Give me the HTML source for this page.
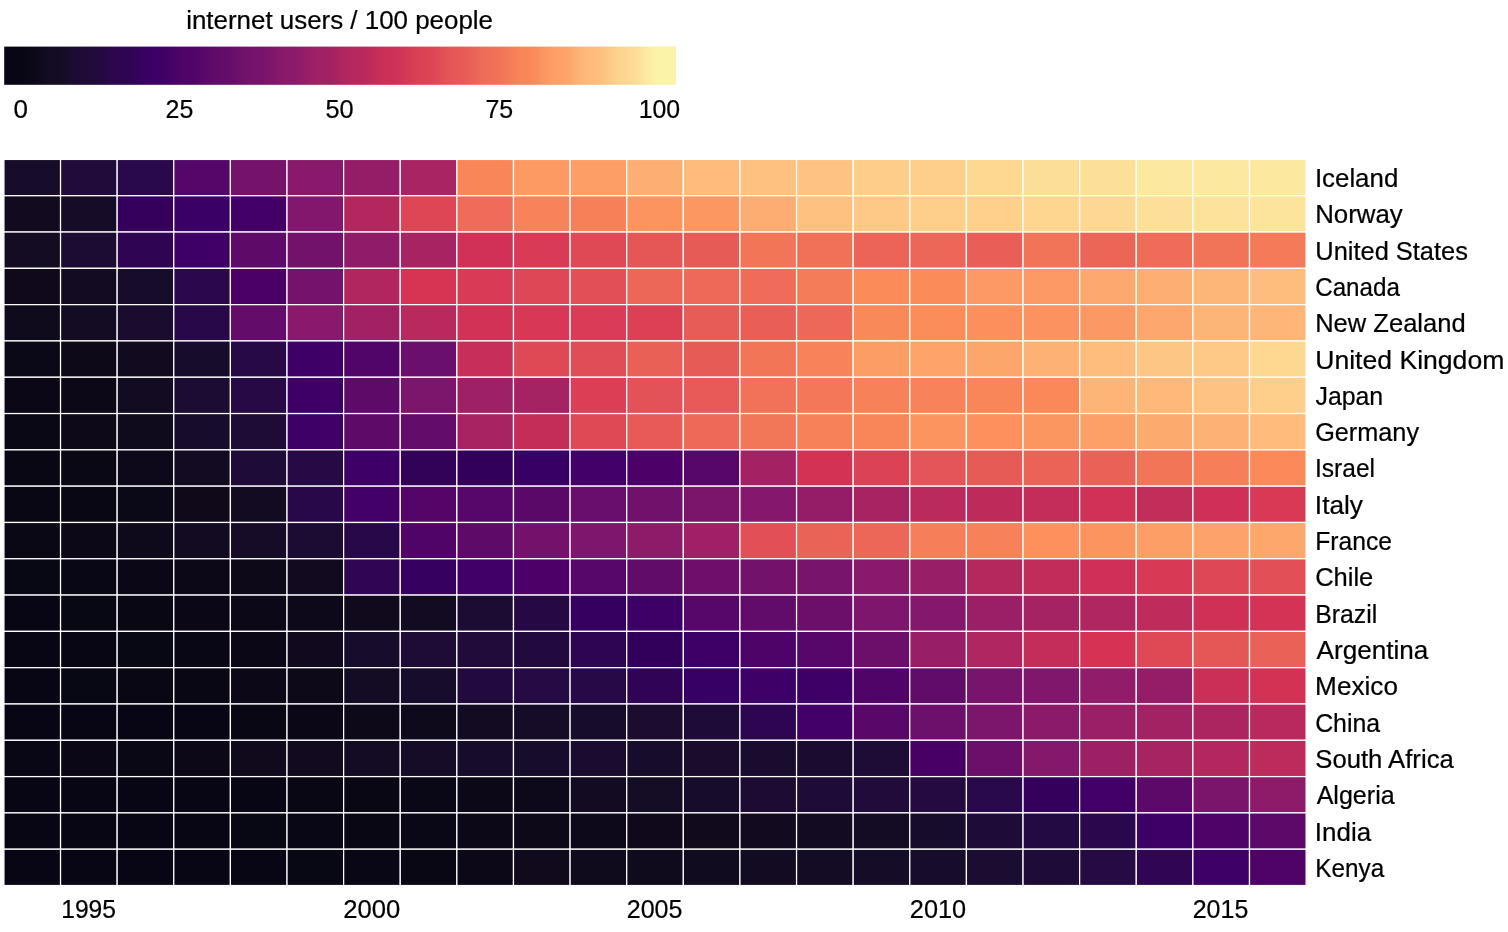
<!DOCTYPE html>
<html><head><meta charset="utf-8"><title>internet users / 100 people</title>
<style>html,body{margin:0;padding:0;background:#fff;overflow:hidden}svg{display:block}text{font-family:"Liberation Sans",sans-serif;fill:#000;stroke:#000;stroke-width:0.22px}</style></head><body>
<svg width="1508" height="932" viewBox="0 0 1508 932">
<defs><linearGradient id="cb" x1="0" x2="1" y1="0" y2="0">
<stop offset="0%" stop-color="#080614"/>
<stop offset="2.500%" stop-color="#080614"/>
<stop offset="3.125%" stop-color="#090615"/>
<stop offset="3.750%" stop-color="#0a0716"/>
<stop offset="4.375%" stop-color="#0c0819"/>
<stop offset="5.000%" stop-color="#0e091c"/>
<stop offset="5.625%" stop-color="#100a1f"/>
<stop offset="6.250%" stop-color="#120b22"/>
<stop offset="6.875%" stop-color="#130c23"/>
<stop offset="7.500%" stop-color="#140c24"/>
<stop offset="8.125%" stop-color="#140c25"/>
<stop offset="8.750%" stop-color="#160c27"/>
<stop offset="9.375%" stop-color="#170c2b"/>
<stop offset="10.000%" stop-color="#1a0c2e"/>
<stop offset="10.625%" stop-color="#1c0b32"/>
<stop offset="11.250%" stop-color="#1d0b36"/>
<stop offset="11.875%" stop-color="#1f0b38"/>
<stop offset="12.500%" stop-color="#1f0b39"/>
<stop offset="13.125%" stop-color="#200b3a"/>
<stop offset="13.750%" stop-color="#210a3d"/>
<stop offset="14.375%" stop-color="#230940"/>
<stop offset="15.000%" stop-color="#260844"/>
<stop offset="15.625%" stop-color="#290849"/>
<stop offset="16.250%" stop-color="#2b074c"/>
<stop offset="16.875%" stop-color="#2c064f"/>
<stop offset="17.500%" stop-color="#2d0650"/>
<stop offset="18.125%" stop-color="#2e0651"/>
<stop offset="18.750%" stop-color="#300553"/>
<stop offset="19.375%" stop-color="#320457"/>
<stop offset="20.000%" stop-color="#35035b"/>
<stop offset="20.625%" stop-color="#38025f"/>
<stop offset="21.250%" stop-color="#3a0163"/>
<stop offset="21.875%" stop-color="#3c0065"/>
<stop offset="22.500%" stop-color="#3d0066"/>
<stop offset="23.125%" stop-color="#3e0066"/>
<stop offset="23.750%" stop-color="#400166"/>
<stop offset="24.375%" stop-color="#430167"/>
<stop offset="25.000%" stop-color="#460267"/>
<stop offset="25.625%" stop-color="#4a0367"/>
<stop offset="26.250%" stop-color="#4d0368"/>
<stop offset="26.875%" stop-color="#4f0468"/>
<stop offset="27.500%" stop-color="#500468"/>
<stop offset="28.125%" stop-color="#510468"/>
<stop offset="28.750%" stop-color="#530568"/>
<stop offset="29.375%" stop-color="#560769"/>
<stop offset="30.000%" stop-color="#5a0869"/>
<stop offset="30.625%" stop-color="#5d0969"/>
<stop offset="31.250%" stop-color="#600b6a"/>
<stop offset="31.875%" stop-color="#620c6a"/>
<stop offset="32.500%" stop-color="#630c6a"/>
<stop offset="33.125%" stop-color="#640c6a"/>
<stop offset="33.750%" stop-color="#660d6a"/>
<stop offset="34.375%" stop-color="#690e6b"/>
<stop offset="35.000%" stop-color="#6c106b"/>
<stop offset="35.625%" stop-color="#70116b"/>
<stop offset="36.250%" stop-color="#73126c"/>
<stop offset="36.875%" stop-color="#75136c"/>
<stop offset="37.500%" stop-color="#76136c"/>
<stop offset="38.125%" stop-color="#77136c"/>
<stop offset="38.750%" stop-color="#79146c"/>
<stop offset="39.375%" stop-color="#7d156b"/>
<stop offset="40.000%" stop-color="#80166b"/>
<stop offset="40.625%" stop-color="#84186b"/>
<stop offset="41.250%" stop-color="#88196a"/>
<stop offset="41.875%" stop-color="#8a1a6a"/>
<stop offset="42.500%" stop-color="#8b1a6a"/>
<stop offset="43.125%" stop-color="#8c1a6a"/>
<stop offset="43.750%" stop-color="#8e1b69"/>
<stop offset="44.375%" stop-color="#921c68"/>
<stop offset="45.000%" stop-color="#961e67"/>
<stop offset="45.625%" stop-color="#9a1f66"/>
<stop offset="46.250%" stop-color="#9e2065"/>
<stop offset="46.875%" stop-color="#a02164"/>
<stop offset="47.500%" stop-color="#a12164"/>
<stop offset="48.125%" stop-color="#a22164"/>
<stop offset="48.750%" stop-color="#a42263"/>
<stop offset="49.375%" stop-color="#a82362"/>
<stop offset="50.000%" stop-color="#ac2461"/>
<stop offset="50.625%" stop-color="#b02660"/>
<stop offset="51.250%" stop-color="#b4275f"/>
<stop offset="51.875%" stop-color="#b6285e"/>
<stop offset="52.500%" stop-color="#b7285e"/>
<stop offset="53.125%" stop-color="#b8285e"/>
<stop offset="53.750%" stop-color="#ba295d"/>
<stop offset="54.375%" stop-color="#be2b5c"/>
<stop offset="55.000%" stop-color="#c22c5a"/>
<stop offset="55.625%" stop-color="#c62d59"/>
<stop offset="56.250%" stop-color="#ca2f58"/>
<stop offset="56.875%" stop-color="#cc3057"/>
<stop offset="57.500%" stop-color="#cd3057"/>
<stop offset="58.125%" stop-color="#ce3157"/>
<stop offset="58.750%" stop-color="#cf3357"/>
<stop offset="59.375%" stop-color="#d23656"/>
<stop offset="60.000%" stop-color="#d43956"/>
<stop offset="60.625%" stop-color="#d73c56"/>
<stop offset="61.250%" stop-color="#da3f55"/>
<stop offset="61.875%" stop-color="#db4155"/>
<stop offset="62.500%" stop-color="#dc4255"/>
<stop offset="63.125%" stop-color="#dc4355"/>
<stop offset="63.750%" stop-color="#de4655"/>
<stop offset="64.375%" stop-color="#df4956"/>
<stop offset="65.000%" stop-color="#e14e56"/>
<stop offset="65.625%" stop-color="#e35256"/>
<stop offset="66.250%" stop-color="#e45557"/>
<stop offset="66.875%" stop-color="#e65857"/>
<stop offset="67.500%" stop-color="#e65957"/>
<stop offset="68.125%" stop-color="#e65a57"/>
<stop offset="68.750%" stop-color="#e85c57"/>
<stop offset="69.375%" stop-color="#e96057"/>
<stop offset="70.000%" stop-color="#eb6458"/>
<stop offset="70.625%" stop-color="#ed6858"/>
<stop offset="71.250%" stop-color="#ee6c58"/>
<stop offset="71.875%" stop-color="#f06e58"/>
<stop offset="72.500%" stop-color="#f06f58"/>
<stop offset="73.125%" stop-color="#f07058"/>
<stop offset="73.750%" stop-color="#f17358"/>
<stop offset="74.375%" stop-color="#f37658"/>
<stop offset="75.000%" stop-color="#f47a58"/>
<stop offset="75.625%" stop-color="#f67f59"/>
<stop offset="76.250%" stop-color="#f88259"/>
<stop offset="76.875%" stop-color="#f98559"/>
<stop offset="77.500%" stop-color="#f98659"/>
<stop offset="78.125%" stop-color="#f9875a"/>
<stop offset="78.750%" stop-color="#fa8a5b"/>
<stop offset="79.375%" stop-color="#fa8e5e"/>
<stop offset="80.000%" stop-color="#fb9360"/>
<stop offset="80.625%" stop-color="#fc9863"/>
<stop offset="81.250%" stop-color="#fc9c66"/>
<stop offset="81.875%" stop-color="#fd9f67"/>
<stop offset="82.500%" stop-color="#fda068"/>
<stop offset="83.125%" stop-color="#fda169"/>
<stop offset="83.750%" stop-color="#fda46b"/>
<stop offset="84.375%" stop-color="#fda96e"/>
<stop offset="85.000%" stop-color="#feae72"/>
<stop offset="85.625%" stop-color="#feb276"/>
<stop offset="86.250%" stop-color="#feb779"/>
<stop offset="86.875%" stop-color="#feba7b"/>
<stop offset="87.500%" stop-color="#febb7c"/>
<stop offset="88.125%" stop-color="#febc7d"/>
<stop offset="88.750%" stop-color="#febf7f"/>
<stop offset="89.375%" stop-color="#fec483"/>
<stop offset="90.000%" stop-color="#fec886"/>
<stop offset="90.625%" stop-color="#fecd8a"/>
<stop offset="91.250%" stop-color="#fed28e"/>
<stop offset="91.875%" stop-color="#fed590"/>
<stop offset="92.500%" stop-color="#fed691"/>
<stop offset="93.125%" stop-color="#fed792"/>
<stop offset="93.750%" stop-color="#fedb94"/>
<stop offset="94.375%" stop-color="#fddf98"/>
<stop offset="95.000%" stop-color="#fce49c"/>
<stop offset="95.625%" stop-color="#fceaa0"/>
<stop offset="96.250%" stop-color="#fbeea4"/>
<stop offset="96.875%" stop-color="#fbf2a6"/>
<stop offset="97.500%" stop-color="#fbf3a7"/>
<stop offset="100%" stop-color="#fbf3a7"/>
</linearGradient></defs>
<rect x="0" y="0" width="1508" height="932" fill="#fff"/>
<rect x="4.2" y="46.6" width="671.8" height="38.2" fill="url(#cb)"/>
<g stroke="#fff" stroke-width="1.25">
<rect x="3.93" y="159.43" width="56.62" height="36.30" fill="#170c2a"/>
<rect x="60.55" y="159.43" width="56.62" height="36.30" fill="#210b3b"/>
<rect x="117.16" y="159.43" width="56.62" height="36.30" fill="#2a084c"/>
<rect x="173.78" y="159.43" width="56.62" height="36.30" fill="#540669"/>
<rect x="230.40" y="159.43" width="56.62" height="36.30" fill="#74126c"/>
<rect x="287.01" y="159.43" width="56.62" height="36.30" fill="#88196b"/>
<rect x="343.63" y="159.43" width="56.62" height="36.30" fill="#951d67"/>
<rect x="400.25" y="159.43" width="56.62" height="36.30" fill="#a92462"/>
<rect x="456.87" y="159.43" width="56.62" height="36.30" fill="#f98659"/>
<rect x="513.48" y="159.43" width="56.62" height="36.30" fill="#fd9a64"/>
<rect x="570.10" y="159.43" width="56.62" height="36.30" fill="#fd9e67"/>
<rect x="626.72" y="159.43" width="56.62" height="36.30" fill="#fdae72"/>
<rect x="683.33" y="159.43" width="56.62" height="36.30" fill="#febb7c"/>
<rect x="739.95" y="159.43" width="56.62" height="36.30" fill="#fec180"/>
<rect x="796.57" y="159.43" width="56.62" height="36.30" fill="#fec382"/>
<rect x="853.18" y="159.43" width="56.62" height="36.30" fill="#fecd8a"/>
<rect x="909.80" y="159.43" width="56.62" height="36.30" fill="#fecf8b"/>
<rect x="966.42" y="159.43" width="56.62" height="36.30" fill="#fed791"/>
<rect x="1023.04" y="159.43" width="56.62" height="36.30" fill="#fdde97"/>
<rect x="1079.65" y="159.43" width="56.62" height="36.30" fill="#fde098"/>
<rect x="1136.27" y="159.43" width="56.62" height="36.30" fill="#fce99f"/>
<rect x="1192.89" y="159.43" width="56.62" height="36.30" fill="#fce99f"/>
<rect x="1249.50" y="159.43" width="56.62" height="36.30" fill="#fce99f"/>
<rect x="3.93" y="195.73" width="56.62" height="36.30" fill="#120b20"/>
<rect x="60.55" y="195.73" width="56.62" height="36.30" fill="#160c28"/>
<rect x="117.16" y="195.73" width="56.62" height="36.30" fill="#34005c"/>
<rect x="173.78" y="195.73" width="56.62" height="36.30" fill="#3a0066"/>
<rect x="230.40" y="195.73" width="56.62" height="36.30" fill="#420067"/>
<rect x="287.01" y="195.73" width="56.62" height="36.30" fill="#82176d"/>
<rect x="343.63" y="195.73" width="56.62" height="36.30" fill="#b4275e"/>
<rect x="400.25" y="195.73" width="56.62" height="36.30" fill="#de4655"/>
<rect x="456.87" y="195.73" width="56.62" height="36.30" fill="#ee6c58"/>
<rect x="513.48" y="195.73" width="56.62" height="36.30" fill="#f88259"/>
<rect x="570.10" y="195.73" width="56.62" height="36.30" fill="#f78059"/>
<rect x="626.72" y="195.73" width="56.62" height="36.30" fill="#fc9460"/>
<rect x="683.33" y="195.73" width="56.62" height="36.30" fill="#fc9762"/>
<rect x="739.95" y="195.73" width="56.62" height="36.30" fill="#fdad72"/>
<rect x="796.57" y="195.73" width="56.62" height="36.30" fill="#fec180"/>
<rect x="853.18" y="195.73" width="56.62" height="36.30" fill="#fec986"/>
<rect x="909.80" y="195.73" width="56.62" height="36.30" fill="#fecf8b"/>
<rect x="966.42" y="195.73" width="56.62" height="36.30" fill="#fed08c"/>
<rect x="1023.04" y="195.73" width="56.62" height="36.30" fill="#fed690"/>
<rect x="1079.65" y="195.73" width="56.62" height="36.30" fill="#fed892"/>
<rect x="1136.27" y="195.73" width="56.62" height="36.30" fill="#fddf97"/>
<rect x="1192.89" y="195.73" width="56.62" height="36.30" fill="#fde299"/>
<rect x="1249.50" y="195.73" width="56.62" height="36.30" fill="#fde49b"/>
<rect x="3.93" y="232.04" width="56.62" height="36.30" fill="#130c23"/>
<rect x="60.55" y="232.04" width="56.62" height="36.30" fill="#1c0b33"/>
<rect x="117.16" y="232.04" width="56.62" height="36.30" fill="#2f0553"/>
<rect x="173.78" y="232.04" width="56.62" height="36.30" fill="#3f0066"/>
<rect x="230.40" y="232.04" width="56.62" height="36.30" fill="#5e0a69"/>
<rect x="287.01" y="232.04" width="56.62" height="36.30" fill="#72126b"/>
<rect x="343.63" y="232.04" width="56.62" height="36.30" fill="#8f1b69"/>
<rect x="400.25" y="232.04" width="56.62" height="36.30" fill="#a82362"/>
<rect x="456.87" y="232.04" width="56.62" height="36.30" fill="#d13156"/>
<rect x="513.48" y="232.04" width="56.62" height="36.30" fill="#d93b55"/>
<rect x="570.10" y="232.04" width="56.62" height="36.30" fill="#df4956"/>
<rect x="626.72" y="232.04" width="56.62" height="36.30" fill="#e55757"/>
<rect x="683.33" y="232.04" width="56.62" height="36.30" fill="#e75b57"/>
<rect x="739.95" y="232.04" width="56.62" height="36.30" fill="#f27558"/>
<rect x="796.57" y="232.04" width="56.62" height="36.30" fill="#f07158"/>
<rect x="853.18" y="232.04" width="56.62" height="36.30" fill="#eb6457"/>
<rect x="909.80" y="232.04" width="56.62" height="36.30" fill="#ec6758"/>
<rect x="966.42" y="232.04" width="56.62" height="36.30" fill="#e95e57"/>
<rect x="1023.04" y="232.04" width="56.62" height="36.30" fill="#f27458"/>
<rect x="1079.65" y="232.04" width="56.62" height="36.30" fill="#ec6658"/>
<rect x="1136.27" y="232.04" width="56.62" height="36.30" fill="#ef6d58"/>
<rect x="1192.89" y="232.04" width="56.62" height="36.30" fill="#f17358"/>
<rect x="1249.50" y="232.04" width="56.62" height="36.30" fill="#f47a59"/>
<rect x="3.93" y="268.34" width="56.62" height="36.30" fill="#0f091b"/>
<rect x="60.55" y="268.34" width="56.62" height="36.30" fill="#120b21"/>
<rect x="117.16" y="268.34" width="56.62" height="36.30" fill="#170c2a"/>
<rect x="173.78" y="268.34" width="56.62" height="36.30" fill="#2b074d"/>
<rect x="230.40" y="268.34" width="56.62" height="36.30" fill="#4b0068"/>
<rect x="287.01" y="268.34" width="56.62" height="36.30" fill="#74126c"/>
<rect x="343.63" y="268.34" width="56.62" height="36.30" fill="#b1265f"/>
<rect x="400.25" y="268.34" width="56.62" height="36.30" fill="#d73454"/>
<rect x="456.87" y="268.34" width="56.62" height="36.30" fill="#d93b55"/>
<rect x="513.48" y="268.34" width="56.62" height="36.30" fill="#de4756"/>
<rect x="570.10" y="268.34" width="56.62" height="36.30" fill="#e24f56"/>
<rect x="626.72" y="268.34" width="56.62" height="36.30" fill="#ec6758"/>
<rect x="683.33" y="268.34" width="56.62" height="36.30" fill="#ed6a58"/>
<rect x="739.95" y="268.34" width="56.62" height="36.30" fill="#ef6d58"/>
<rect x="796.57" y="268.34" width="56.62" height="36.30" fill="#f57c59"/>
<rect x="853.18" y="268.34" width="56.62" height="36.30" fill="#fb8c5a"/>
<rect x="909.80" y="268.34" width="56.62" height="36.30" fill="#fb8c5a"/>
<rect x="966.42" y="268.34" width="56.62" height="36.30" fill="#fd9964"/>
<rect x="1023.04" y="268.34" width="56.62" height="36.30" fill="#fd9964"/>
<rect x="1079.65" y="268.34" width="56.62" height="36.30" fill="#fda86e"/>
<rect x="1136.27" y="268.34" width="56.62" height="36.30" fill="#fdaf73"/>
<rect x="1192.89" y="268.34" width="56.62" height="36.30" fill="#fdb678"/>
<rect x="1249.50" y="268.34" width="56.62" height="36.30" fill="#febd7d"/>
<rect x="3.93" y="304.65" width="56.62" height="36.30" fill="#100a1d"/>
<rect x="60.55" y="304.65" width="56.62" height="36.30" fill="#130c23"/>
<rect x="117.16" y="304.65" width="56.62" height="36.30" fill="#1a0c2f"/>
<rect x="173.78" y="304.65" width="56.62" height="36.30" fill="#29084a"/>
<rect x="230.40" y="304.65" width="56.62" height="36.30" fill="#630c6a"/>
<rect x="287.01" y="304.65" width="56.62" height="36.30" fill="#88196b"/>
<rect x="343.63" y="304.65" width="56.62" height="36.30" fill="#a12164"/>
<rect x="400.25" y="304.65" width="56.62" height="36.30" fill="#b9295d"/>
<rect x="456.87" y="304.65" width="56.62" height="36.30" fill="#d23255"/>
<rect x="513.48" y="304.65" width="56.62" height="36.30" fill="#d83855"/>
<rect x="570.10" y="304.65" width="56.62" height="36.30" fill="#da3c55"/>
<rect x="626.72" y="304.65" width="56.62" height="36.30" fill="#db4055"/>
<rect x="683.33" y="304.65" width="56.62" height="36.30" fill="#e75c57"/>
<rect x="739.95" y="304.65" width="56.62" height="36.30" fill="#e95f57"/>
<rect x="796.57" y="304.65" width="56.62" height="36.30" fill="#ed6858"/>
<rect x="853.18" y="304.65" width="56.62" height="36.30" fill="#fa8959"/>
<rect x="909.80" y="304.65" width="56.62" height="36.30" fill="#fb8d5b"/>
<rect x="966.42" y="304.65" width="56.62" height="36.30" fill="#fc905d"/>
<rect x="1023.04" y="304.65" width="56.62" height="36.30" fill="#fc925f"/>
<rect x="1079.65" y="304.65" width="56.62" height="36.30" fill="#fc9863"/>
<rect x="1136.27" y="304.65" width="56.62" height="36.30" fill="#fda66d"/>
<rect x="1192.89" y="304.65" width="56.62" height="36.30" fill="#fdb477"/>
<rect x="1249.50" y="304.65" width="56.62" height="36.30" fill="#fdb678"/>
<rect x="3.93" y="340.95" width="56.62" height="36.30" fill="#0b0817"/>
<rect x="60.55" y="340.95" width="56.62" height="36.30" fill="#0e0919"/>
<rect x="117.16" y="340.95" width="56.62" height="36.30" fill="#120b20"/>
<rect x="173.78" y="340.95" width="56.62" height="36.30" fill="#180c2c"/>
<rect x="230.40" y="340.95" width="56.62" height="36.30" fill="#270947"/>
<rect x="287.01" y="340.95" width="56.62" height="36.30" fill="#3e0066"/>
<rect x="343.63" y="340.95" width="56.62" height="36.30" fill="#520568"/>
<rect x="400.25" y="340.95" width="56.62" height="36.30" fill="#6a0f6b"/>
<rect x="456.87" y="340.95" width="56.62" height="36.30" fill="#c72e59"/>
<rect x="513.48" y="340.95" width="56.62" height="36.30" fill="#df4956"/>
<rect x="570.10" y="340.95" width="56.62" height="36.30" fill="#e14d56"/>
<rect x="626.72" y="340.95" width="56.62" height="36.30" fill="#e96057"/>
<rect x="683.33" y="340.95" width="56.62" height="36.30" fill="#e75b57"/>
<rect x="739.95" y="340.95" width="56.62" height="36.30" fill="#f27558"/>
<rect x="796.57" y="340.95" width="56.62" height="36.30" fill="#f88359"/>
<rect x="853.18" y="340.95" width="56.62" height="36.30" fill="#fd9d66"/>
<rect x="909.80" y="340.95" width="56.62" height="36.30" fill="#fda46b"/>
<rect x="966.42" y="340.95" width="56.62" height="36.30" fill="#fda66c"/>
<rect x="1023.04" y="340.95" width="56.62" height="36.30" fill="#fdb174"/>
<rect x="1079.65" y="340.95" width="56.62" height="36.30" fill="#febd7d"/>
<rect x="1136.27" y="340.95" width="56.62" height="36.30" fill="#fec684"/>
<rect x="1192.89" y="340.95" width="56.62" height="36.30" fill="#fec886"/>
<rect x="1249.50" y="340.95" width="56.62" height="36.30" fill="#fed791"/>
<rect x="3.93" y="377.26" width="56.62" height="36.30" fill="#0b0716"/>
<rect x="60.55" y="377.26" width="56.62" height="36.30" fill="#0d0818"/>
<rect x="117.16" y="377.26" width="56.62" height="36.30" fill="#120b21"/>
<rect x="173.78" y="377.26" width="56.62" height="36.30" fill="#1c0b33"/>
<rect x="230.40" y="377.26" width="56.62" height="36.30" fill="#270945"/>
<rect x="287.01" y="377.26" width="56.62" height="36.30" fill="#3e0066"/>
<rect x="343.63" y="377.26" width="56.62" height="36.30" fill="#5d0a69"/>
<rect x="400.25" y="377.26" width="56.62" height="36.30" fill="#7c156c"/>
<rect x="456.87" y="377.26" width="56.62" height="36.30" fill="#9e2065"/>
<rect x="513.48" y="377.26" width="56.62" height="36.30" fill="#a52263"/>
<rect x="570.10" y="377.26" width="56.62" height="36.30" fill="#db3f55"/>
<rect x="626.72" y="377.26" width="56.62" height="36.30" fill="#e35256"/>
<rect x="683.33" y="377.26" width="56.62" height="36.30" fill="#e75a57"/>
<rect x="739.95" y="377.26" width="56.62" height="36.30" fill="#f17258"/>
<rect x="796.57" y="377.26" width="56.62" height="36.30" fill="#f37758"/>
<rect x="853.18" y="377.26" width="56.62" height="36.30" fill="#f78259"/>
<rect x="909.80" y="377.26" width="56.62" height="36.30" fill="#f88359"/>
<rect x="966.42" y="377.26" width="56.62" height="36.30" fill="#f98659"/>
<rect x="1023.04" y="377.26" width="56.62" height="36.30" fill="#fa8859"/>
<rect x="1079.65" y="377.26" width="56.62" height="36.30" fill="#fdb477"/>
<rect x="1136.27" y="377.26" width="56.62" height="36.30" fill="#feb97a"/>
<rect x="1192.89" y="377.26" width="56.62" height="36.30" fill="#fec382"/>
<rect x="1249.50" y="377.26" width="56.62" height="36.30" fill="#fece8b"/>
<rect x="3.93" y="413.56" width="56.62" height="36.30" fill="#0b0816"/>
<rect x="60.55" y="413.56" width="56.62" height="36.30" fill="#0e0919"/>
<rect x="117.16" y="413.56" width="56.62" height="36.30" fill="#100a1d"/>
<rect x="173.78" y="413.56" width="56.62" height="36.30" fill="#170c29"/>
<rect x="230.40" y="413.56" width="56.62" height="36.30" fill="#1e0b36"/>
<rect x="287.01" y="413.56" width="56.62" height="36.30" fill="#3c0066"/>
<rect x="343.63" y="413.56" width="56.62" height="36.30" fill="#5e0a69"/>
<rect x="400.25" y="413.56" width="56.62" height="36.30" fill="#630c6a"/>
<rect x="456.87" y="413.56" width="56.62" height="36.30" fill="#a72362"/>
<rect x="513.48" y="413.56" width="56.62" height="36.30" fill="#c52d59"/>
<rect x="570.10" y="413.56" width="56.62" height="36.30" fill="#df4956"/>
<rect x="626.72" y="413.56" width="56.62" height="36.30" fill="#e75a57"/>
<rect x="683.33" y="413.56" width="56.62" height="36.30" fill="#ed6958"/>
<rect x="739.95" y="413.56" width="56.62" height="36.30" fill="#f27658"/>
<rect x="796.57" y="413.56" width="56.62" height="36.30" fill="#f78259"/>
<rect x="853.18" y="413.56" width="56.62" height="36.30" fill="#f98659"/>
<rect x="909.80" y="413.56" width="56.62" height="36.30" fill="#fc9460"/>
<rect x="966.42" y="413.56" width="56.62" height="36.30" fill="#fc915e"/>
<rect x="1023.04" y="413.56" width="56.62" height="36.30" fill="#fc9661"/>
<rect x="1079.65" y="413.56" width="56.62" height="36.30" fill="#fda068"/>
<rect x="1136.27" y="413.56" width="56.62" height="36.30" fill="#fdaa6f"/>
<rect x="1192.89" y="413.56" width="56.62" height="36.30" fill="#fdb175"/>
<rect x="1249.50" y="413.56" width="56.62" height="36.30" fill="#febb7c"/>
<rect x="3.93" y="449.87" width="56.62" height="36.30" fill="#0a0715"/>
<rect x="60.55" y="449.87" width="56.62" height="36.30" fill="#0b0816"/>
<rect x="117.16" y="449.87" width="56.62" height="36.30" fill="#0e091a"/>
<rect x="173.78" y="449.87" width="56.62" height="36.30" fill="#120b21"/>
<rect x="230.40" y="449.87" width="56.62" height="36.30" fill="#1f0b38"/>
<rect x="287.01" y="449.87" width="56.62" height="36.30" fill="#270945"/>
<rect x="343.63" y="449.87" width="56.62" height="36.30" fill="#3c0066"/>
<rect x="400.25" y="449.87" width="56.62" height="36.30" fill="#310258"/>
<rect x="456.87" y="449.87" width="56.62" height="36.30" fill="#32005a"/>
<rect x="513.48" y="449.87" width="56.62" height="36.30" fill="#380064"/>
<rect x="570.10" y="449.87" width="56.62" height="36.30" fill="#430067"/>
<rect x="626.72" y="449.87" width="56.62" height="36.30" fill="#4c0068"/>
<rect x="683.33" y="449.87" width="56.62" height="36.30" fill="#560769"/>
<rect x="739.95" y="449.87" width="56.62" height="36.30" fill="#a42263"/>
<rect x="796.57" y="449.87" width="56.62" height="36.30" fill="#d43255"/>
<rect x="853.18" y="449.87" width="56.62" height="36.30" fill="#dc4255"/>
<rect x="909.80" y="449.87" width="56.62" height="36.30" fill="#e45557"/>
<rect x="966.42" y="449.87" width="56.62" height="36.30" fill="#e75b57"/>
<rect x="1023.04" y="449.87" width="56.62" height="36.30" fill="#eb6357"/>
<rect x="1079.65" y="449.87" width="56.62" height="36.30" fill="#ea6157"/>
<rect x="1136.27" y="449.87" width="56.62" height="36.30" fill="#f27558"/>
<rect x="1192.89" y="449.87" width="56.62" height="36.30" fill="#f67f59"/>
<rect x="1249.50" y="449.87" width="56.62" height="36.30" fill="#fb8959"/>
<rect x="3.93" y="486.17" width="56.62" height="36.30" fill="#090714"/>
<rect x="60.55" y="486.17" width="56.62" height="36.30" fill="#0a0715"/>
<rect x="117.16" y="486.17" width="56.62" height="36.30" fill="#0b0817"/>
<rect x="173.78" y="486.17" width="56.62" height="36.30" fill="#0f091a"/>
<rect x="230.40" y="486.17" width="56.62" height="36.30" fill="#130b22"/>
<rect x="287.01" y="486.17" width="56.62" height="36.30" fill="#29084a"/>
<rect x="343.63" y="486.17" width="56.62" height="36.30" fill="#440067"/>
<rect x="400.25" y="486.17" width="56.62" height="36.30" fill="#530668"/>
<rect x="456.87" y="486.17" width="56.62" height="36.30" fill="#560769"/>
<rect x="513.48" y="486.17" width="56.62" height="36.30" fill="#5a0969"/>
<rect x="570.10" y="486.17" width="56.62" height="36.30" fill="#690e6b"/>
<rect x="626.72" y="486.17" width="56.62" height="36.30" fill="#70116b"/>
<rect x="683.33" y="486.17" width="56.62" height="36.30" fill="#7b156c"/>
<rect x="739.95" y="486.17" width="56.62" height="36.30" fill="#85186c"/>
<rect x="796.57" y="486.17" width="56.62" height="36.30" fill="#951d67"/>
<rect x="853.18" y="486.17" width="56.62" height="36.30" fill="#a72362"/>
<rect x="909.80" y="486.17" width="56.62" height="36.30" fill="#bb2a5c"/>
<rect x="966.42" y="486.17" width="56.62" height="36.30" fill="#be2b5b"/>
<rect x="1023.04" y="486.17" width="56.62" height="36.30" fill="#c42d5a"/>
<rect x="1079.65" y="486.17" width="56.62" height="36.30" fill="#d03156"/>
<rect x="1136.27" y="486.17" width="56.62" height="36.30" fill="#c32d5a"/>
<rect x="1192.89" y="486.17" width="56.62" height="36.30" fill="#ce3057"/>
<rect x="1249.50" y="486.17" width="56.62" height="36.30" fill="#d93955"/>
<rect x="3.93" y="522.47" width="56.62" height="36.30" fill="#0b0816"/>
<rect x="60.55" y="522.47" width="56.62" height="36.30" fill="#0d0818"/>
<rect x="117.16" y="522.47" width="56.62" height="36.30" fill="#0f0a1b"/>
<rect x="173.78" y="522.47" width="56.62" height="36.30" fill="#120b21"/>
<rect x="230.40" y="522.47" width="56.62" height="36.30" fill="#160c28"/>
<rect x="287.01" y="522.47" width="56.62" height="36.30" fill="#1c0c33"/>
<rect x="343.63" y="522.47" width="56.62" height="36.30" fill="#290849"/>
<rect x="400.25" y="522.47" width="56.62" height="36.30" fill="#500468"/>
<rect x="456.87" y="522.47" width="56.62" height="36.30" fill="#5e0a69"/>
<rect x="513.48" y="522.47" width="56.62" height="36.30" fill="#74126b"/>
<rect x="570.10" y="522.47" width="56.62" height="36.30" fill="#7f166d"/>
<rect x="626.72" y="522.47" width="56.62" height="36.30" fill="#8e1b69"/>
<rect x="683.33" y="522.47" width="56.62" height="36.30" fill="#9f2065"/>
<rect x="739.95" y="522.47" width="56.62" height="36.30" fill="#e24f56"/>
<rect x="796.57" y="522.47" width="56.62" height="36.30" fill="#ea6357"/>
<rect x="853.18" y="522.47" width="56.62" height="36.30" fill="#ec6758"/>
<rect x="909.80" y="522.47" width="56.62" height="36.30" fill="#f67f59"/>
<rect x="966.42" y="522.47" width="56.62" height="36.30" fill="#f78159"/>
<rect x="1023.04" y="522.47" width="56.62" height="36.30" fill="#fc915e"/>
<rect x="1079.65" y="522.47" width="56.62" height="36.30" fill="#fc9460"/>
<rect x="1136.27" y="522.47" width="56.62" height="36.30" fill="#fd9e67"/>
<rect x="1192.89" y="522.47" width="56.62" height="36.30" fill="#fda26a"/>
<rect x="1249.50" y="522.47" width="56.62" height="36.30" fill="#fda76d"/>
<rect x="3.93" y="558.78" width="56.62" height="36.30" fill="#080714"/>
<rect x="60.55" y="558.78" width="56.62" height="36.30" fill="#090715"/>
<rect x="117.16" y="558.78" width="56.62" height="36.30" fill="#0b0716"/>
<rect x="173.78" y="558.78" width="56.62" height="36.30" fill="#0c0817"/>
<rect x="230.40" y="558.78" width="56.62" height="36.30" fill="#0d0919"/>
<rect x="287.01" y="558.78" width="56.62" height="36.30" fill="#120b20"/>
<rect x="343.63" y="558.78" width="56.62" height="36.30" fill="#2f0554"/>
<rect x="400.25" y="558.78" width="56.62" height="36.30" fill="#360061"/>
<rect x="456.87" y="558.78" width="56.62" height="36.30" fill="#410067"/>
<rect x="513.48" y="558.78" width="56.62" height="36.30" fill="#4d0168"/>
<rect x="570.10" y="558.78" width="56.62" height="36.30" fill="#570769"/>
<rect x="626.72" y="558.78" width="56.62" height="36.30" fill="#620c6a"/>
<rect x="683.33" y="558.78" width="56.62" height="36.30" fill="#6e106b"/>
<rect x="739.95" y="558.78" width="56.62" height="36.30" fill="#73126b"/>
<rect x="796.57" y="558.78" width="56.62" height="36.30" fill="#78146c"/>
<rect x="853.18" y="558.78" width="56.62" height="36.30" fill="#89196b"/>
<rect x="909.80" y="558.78" width="56.62" height="36.30" fill="#971e67"/>
<rect x="966.42" y="558.78" width="56.62" height="36.30" fill="#b5285e"/>
<rect x="1023.04" y="558.78" width="56.62" height="36.30" fill="#c12c5b"/>
<rect x="1079.65" y="558.78" width="56.62" height="36.30" fill="#ce3057"/>
<rect x="1136.27" y="558.78" width="56.62" height="36.30" fill="#d83955"/>
<rect x="1192.89" y="558.78" width="56.62" height="36.30" fill="#de4756"/>
<rect x="1249.50" y="558.78" width="56.62" height="36.30" fill="#e24f56"/>
<rect x="3.93" y="595.08" width="56.62" height="36.30" fill="#080614"/>
<rect x="60.55" y="595.08" width="56.62" height="36.30" fill="#080714"/>
<rect x="117.16" y="595.08" width="56.62" height="36.30" fill="#0a0715"/>
<rect x="173.78" y="595.08" width="56.62" height="36.30" fill="#0b0716"/>
<rect x="230.40" y="595.08" width="56.62" height="36.30" fill="#0d0818"/>
<rect x="287.01" y="595.08" width="56.62" height="36.30" fill="#0e091a"/>
<rect x="343.63" y="595.08" width="56.62" height="36.30" fill="#100a1c"/>
<rect x="400.25" y="595.08" width="56.62" height="36.30" fill="#120b22"/>
<rect x="456.87" y="595.08" width="56.62" height="36.30" fill="#1c0c33"/>
<rect x="513.48" y="595.08" width="56.62" height="36.30" fill="#260944"/>
<rect x="570.10" y="595.08" width="56.62" height="36.30" fill="#360061"/>
<rect x="626.72" y="595.08" width="56.62" height="36.30" fill="#3d0066"/>
<rect x="683.33" y="595.08" width="56.62" height="36.30" fill="#570769"/>
<rect x="739.95" y="595.08" width="56.62" height="36.30" fill="#610b6a"/>
<rect x="796.57" y="595.08" width="56.62" height="36.30" fill="#6b0f6b"/>
<rect x="853.18" y="595.08" width="56.62" height="36.30" fill="#7f166d"/>
<rect x="909.80" y="595.08" width="56.62" height="36.30" fill="#85186c"/>
<rect x="966.42" y="595.08" width="56.62" height="36.30" fill="#9a1f66"/>
<rect x="1023.04" y="595.08" width="56.62" height="36.30" fill="#a62363"/>
<rect x="1079.65" y="595.08" width="56.62" height="36.30" fill="#b02660"/>
<rect x="1136.27" y="595.08" width="56.62" height="36.30" fill="#bf2b5b"/>
<rect x="1192.89" y="595.08" width="56.62" height="36.30" fill="#cf3156"/>
<rect x="1249.50" y="595.08" width="56.62" height="36.30" fill="#d53355"/>
<rect x="3.93" y="631.39" width="56.62" height="36.30" fill="#080614"/>
<rect x="60.55" y="631.39" width="56.62" height="36.30" fill="#080614"/>
<rect x="117.16" y="631.39" width="56.62" height="36.30" fill="#080714"/>
<rect x="173.78" y="631.39" width="56.62" height="36.30" fill="#090715"/>
<rect x="230.40" y="631.39" width="56.62" height="36.30" fill="#0b0716"/>
<rect x="287.01" y="631.39" width="56.62" height="36.30" fill="#110a1e"/>
<rect x="343.63" y="631.39" width="56.62" height="36.30" fill="#170c2b"/>
<rect x="400.25" y="631.39" width="56.62" height="36.30" fill="#1e0b36"/>
<rect x="456.87" y="631.39" width="56.62" height="36.30" fill="#200b3a"/>
<rect x="513.48" y="631.39" width="56.62" height="36.30" fill="#230a3e"/>
<rect x="570.10" y="631.39" width="56.62" height="36.30" fill="#2d0651"/>
<rect x="626.72" y="631.39" width="56.62" height="36.30" fill="#32005a"/>
<rect x="683.33" y="631.39" width="56.62" height="36.30" fill="#3c0066"/>
<rect x="739.95" y="631.39" width="56.62" height="36.30" fill="#4e0368"/>
<rect x="796.57" y="631.39" width="56.62" height="36.30" fill="#560769"/>
<rect x="853.18" y="631.39" width="56.62" height="36.30" fill="#6c0f6b"/>
<rect x="909.80" y="631.39" width="56.62" height="36.30" fill="#971e67"/>
<rect x="966.42" y="631.39" width="56.62" height="36.30" fill="#b02660"/>
<rect x="1023.04" y="631.39" width="56.62" height="36.30" fill="#c42d5a"/>
<rect x="1079.65" y="631.39" width="56.62" height="36.30" fill="#d63354"/>
<rect x="1136.27" y="631.39" width="56.62" height="36.30" fill="#df4956"/>
<rect x="1192.89" y="631.39" width="56.62" height="36.30" fill="#e55757"/>
<rect x="1249.50" y="631.39" width="56.62" height="36.30" fill="#e96157"/>
<rect x="3.93" y="667.69" width="56.62" height="36.30" fill="#080614"/>
<rect x="60.55" y="667.69" width="56.62" height="36.30" fill="#080714"/>
<rect x="117.16" y="667.69" width="56.62" height="36.30" fill="#090714"/>
<rect x="173.78" y="667.69" width="56.62" height="36.30" fill="#0a0715"/>
<rect x="230.40" y="667.69" width="56.62" height="36.30" fill="#0c0817"/>
<rect x="287.01" y="667.69" width="56.62" height="36.30" fill="#0e0919"/>
<rect x="343.63" y="667.69" width="56.62" height="36.30" fill="#140c24"/>
<rect x="400.25" y="667.69" width="56.62" height="36.30" fill="#170c2b"/>
<rect x="456.87" y="667.69" width="56.62" height="36.30" fill="#230a3e"/>
<rect x="513.48" y="667.69" width="56.62" height="36.30" fill="#250a43"/>
<rect x="570.10" y="667.69" width="56.62" height="36.30" fill="#280948"/>
<rect x="626.72" y="667.69" width="56.62" height="36.30" fill="#310357"/>
<rect x="683.33" y="667.69" width="56.62" height="36.30" fill="#370063"/>
<rect x="739.95" y="667.69" width="56.62" height="36.30" fill="#3c0066"/>
<rect x="796.57" y="667.69" width="56.62" height="36.30" fill="#3f0066"/>
<rect x="853.18" y="667.69" width="56.62" height="36.30" fill="#500468"/>
<rect x="909.80" y="667.69" width="56.62" height="36.30" fill="#610b6a"/>
<rect x="966.42" y="667.69" width="56.62" height="36.30" fill="#78146c"/>
<rect x="1023.04" y="667.69" width="56.62" height="36.30" fill="#81176d"/>
<rect x="1079.65" y="667.69" width="56.62" height="36.30" fill="#911c69"/>
<rect x="1136.27" y="667.69" width="56.62" height="36.30" fill="#951d68"/>
<rect x="1192.89" y="667.69" width="56.62" height="36.30" fill="#cb2f58"/>
<rect x="1249.50" y="667.69" width="56.62" height="36.30" fill="#d43255"/>
<rect x="3.93" y="704.00" width="56.62" height="36.30" fill="#080614"/>
<rect x="60.55" y="704.00" width="56.62" height="36.30" fill="#080614"/>
<rect x="117.16" y="704.00" width="56.62" height="36.30" fill="#080614"/>
<rect x="173.78" y="704.00" width="56.62" height="36.30" fill="#080614"/>
<rect x="230.40" y="704.00" width="56.62" height="36.30" fill="#090714"/>
<rect x="287.01" y="704.00" width="56.62" height="36.30" fill="#0b0716"/>
<rect x="343.63" y="704.00" width="56.62" height="36.30" fill="#0e0919"/>
<rect x="400.25" y="704.00" width="56.62" height="36.30" fill="#0f0a1b"/>
<rect x="456.87" y="704.00" width="56.62" height="36.30" fill="#130b22"/>
<rect x="513.48" y="704.00" width="56.62" height="36.30" fill="#160c28"/>
<rect x="570.10" y="704.00" width="56.62" height="36.30" fill="#180c2c"/>
<rect x="626.72" y="704.00" width="56.62" height="36.30" fill="#1b0c30"/>
<rect x="683.33" y="704.00" width="56.62" height="36.30" fill="#1f0b38"/>
<rect x="739.95" y="704.00" width="56.62" height="36.30" fill="#2d0651"/>
<rect x="796.57" y="704.00" width="56.62" height="36.30" fill="#420067"/>
<rect x="853.18" y="704.00" width="56.62" height="36.30" fill="#590869"/>
<rect x="909.80" y="704.00" width="56.62" height="36.30" fill="#6d106b"/>
<rect x="966.42" y="704.00" width="56.62" height="36.30" fill="#7c156c"/>
<rect x="1023.04" y="704.00" width="56.62" height="36.30" fill="#8c1a6a"/>
<rect x="1079.65" y="704.00" width="56.62" height="36.30" fill="#9a1f66"/>
<rect x="1136.27" y="704.00" width="56.62" height="36.30" fill="#a32263"/>
<rect x="1192.89" y="704.00" width="56.62" height="36.30" fill="#ad2560"/>
<rect x="1249.50" y="704.00" width="56.62" height="36.30" fill="#b9295d"/>
<rect x="3.93" y="740.30" width="56.62" height="36.30" fill="#090715"/>
<rect x="60.55" y="740.30" width="56.62" height="36.30" fill="#0b0716"/>
<rect x="117.16" y="740.30" width="56.62" height="36.30" fill="#0b0816"/>
<rect x="173.78" y="740.30" width="56.62" height="36.30" fill="#0d0818"/>
<rect x="230.40" y="740.30" width="56.62" height="36.30" fill="#100a1c"/>
<rect x="287.01" y="740.30" width="56.62" height="36.30" fill="#120b20"/>
<rect x="343.63" y="740.30" width="56.62" height="36.30" fill="#140c24"/>
<rect x="400.25" y="740.30" width="56.62" height="36.30" fill="#160c28"/>
<rect x="456.87" y="740.30" width="56.62" height="36.30" fill="#170c29"/>
<rect x="513.48" y="740.30" width="56.62" height="36.30" fill="#170c2b"/>
<rect x="570.10" y="740.30" width="56.62" height="36.30" fill="#1a0c30"/>
<rect x="626.72" y="740.30" width="56.62" height="36.30" fill="#180c2c"/>
<rect x="683.33" y="740.30" width="56.62" height="36.30" fill="#190c2d"/>
<rect x="739.95" y="740.30" width="56.62" height="36.30" fill="#1a0c2f"/>
<rect x="796.57" y="740.30" width="56.62" height="36.30" fill="#1a0c30"/>
<rect x="853.18" y="740.30" width="56.62" height="36.30" fill="#1e0b36"/>
<rect x="909.80" y="740.30" width="56.62" height="36.30" fill="#480067"/>
<rect x="966.42" y="740.30" width="56.62" height="36.30" fill="#6c0f6b"/>
<rect x="1023.04" y="740.30" width="56.62" height="36.30" fill="#86186c"/>
<rect x="1079.65" y="740.30" width="56.62" height="36.30" fill="#9d2065"/>
<rect x="1136.27" y="740.30" width="56.62" height="36.30" fill="#a82362"/>
<rect x="1192.89" y="740.30" width="56.62" height="36.30" fill="#b4275e"/>
<rect x="1249.50" y="740.30" width="56.62" height="36.30" fill="#bd2a5c"/>
<rect x="3.93" y="776.61" width="56.62" height="36.30" fill="#080614"/>
<rect x="60.55" y="776.61" width="56.62" height="36.30" fill="#080614"/>
<rect x="117.16" y="776.61" width="56.62" height="36.30" fill="#080614"/>
<rect x="173.78" y="776.61" width="56.62" height="36.30" fill="#080614"/>
<rect x="230.40" y="776.61" width="56.62" height="36.30" fill="#080614"/>
<rect x="287.01" y="776.61" width="56.62" height="36.30" fill="#090714"/>
<rect x="343.63" y="776.61" width="56.62" height="36.30" fill="#0a0715"/>
<rect x="400.25" y="776.61" width="56.62" height="36.30" fill="#0a0716"/>
<rect x="456.87" y="776.61" width="56.62" height="36.30" fill="#0d0818"/>
<rect x="513.48" y="776.61" width="56.62" height="36.30" fill="#0e091a"/>
<rect x="570.10" y="776.61" width="56.62" height="36.30" fill="#130b22"/>
<rect x="626.72" y="776.61" width="56.62" height="36.30" fill="#150c26"/>
<rect x="683.33" y="776.61" width="56.62" height="36.30" fill="#180c2c"/>
<rect x="739.95" y="776.61" width="56.62" height="36.30" fill="#1d0b34"/>
<rect x="796.57" y="776.61" width="56.62" height="36.30" fill="#1f0b37"/>
<rect x="853.18" y="776.61" width="56.62" height="36.30" fill="#210b3b"/>
<rect x="909.80" y="776.61" width="56.62" height="36.30" fill="#240a41"/>
<rect x="966.42" y="776.61" width="56.62" height="36.30" fill="#2a084c"/>
<rect x="1023.04" y="776.61" width="56.62" height="36.30" fill="#34005c"/>
<rect x="1079.65" y="776.61" width="56.62" height="36.30" fill="#420067"/>
<rect x="1136.27" y="776.61" width="56.62" height="36.30" fill="#5c0969"/>
<rect x="1192.89" y="776.61" width="56.62" height="36.30" fill="#7b156c"/>
<rect x="1249.50" y="776.61" width="56.62" height="36.30" fill="#8e1b69"/>
<rect x="3.93" y="812.91" width="56.62" height="36.30" fill="#080614"/>
<rect x="60.55" y="812.91" width="56.62" height="36.30" fill="#080614"/>
<rect x="117.16" y="812.91" width="56.62" height="36.30" fill="#080614"/>
<rect x="173.78" y="812.91" width="56.62" height="36.30" fill="#080614"/>
<rect x="230.40" y="812.91" width="56.62" height="36.30" fill="#080714"/>
<rect x="287.01" y="812.91" width="56.62" height="36.30" fill="#090715"/>
<rect x="343.63" y="812.91" width="56.62" height="36.30" fill="#0a0715"/>
<rect x="400.25" y="812.91" width="56.62" height="36.30" fill="#0a0716"/>
<rect x="456.87" y="812.91" width="56.62" height="36.30" fill="#0d0818"/>
<rect x="513.48" y="812.91" width="56.62" height="36.30" fill="#0d0919"/>
<rect x="570.10" y="812.91" width="56.62" height="36.30" fill="#0e091a"/>
<rect x="626.72" y="812.91" width="56.62" height="36.30" fill="#0f091b"/>
<rect x="683.33" y="812.91" width="56.62" height="36.30" fill="#100a1c"/>
<rect x="739.95" y="812.91" width="56.62" height="36.30" fill="#120b20"/>
<rect x="796.57" y="812.91" width="56.62" height="36.30" fill="#120b21"/>
<rect x="853.18" y="812.91" width="56.62" height="36.30" fill="#140c24"/>
<rect x="909.80" y="812.91" width="56.62" height="36.30" fill="#180c2c"/>
<rect x="966.42" y="812.91" width="56.62" height="36.30" fill="#1e0b37"/>
<rect x="1023.04" y="812.91" width="56.62" height="36.30" fill="#240a42"/>
<rect x="1079.65" y="812.91" width="56.62" height="36.30" fill="#2b074d"/>
<rect x="1136.27" y="812.91" width="56.62" height="36.30" fill="#3d0066"/>
<rect x="1192.89" y="812.91" width="56.62" height="36.30" fill="#4f0368"/>
<rect x="1249.50" y="812.91" width="56.62" height="36.30" fill="#5c0969"/>
<rect x="3.93" y="849.22" width="56.62" height="36.30" fill="#080614"/>
<rect x="60.55" y="849.22" width="56.62" height="36.30" fill="#080614"/>
<rect x="117.16" y="849.22" width="56.62" height="36.30" fill="#080614"/>
<rect x="173.78" y="849.22" width="56.62" height="36.30" fill="#080614"/>
<rect x="230.40" y="849.22" width="56.62" height="36.30" fill="#080614"/>
<rect x="287.01" y="849.22" width="56.62" height="36.30" fill="#080714"/>
<rect x="343.63" y="849.22" width="56.62" height="36.30" fill="#090715"/>
<rect x="400.25" y="849.22" width="56.62" height="36.30" fill="#0a0715"/>
<rect x="456.87" y="849.22" width="56.62" height="36.30" fill="#0c0817"/>
<rect x="513.48" y="849.22" width="56.62" height="36.30" fill="#100a1c"/>
<rect x="570.10" y="849.22" width="56.62" height="36.30" fill="#100a1d"/>
<rect x="626.72" y="849.22" width="56.62" height="36.30" fill="#100a1d"/>
<rect x="683.33" y="849.22" width="56.62" height="36.30" fill="#110b1f"/>
<rect x="739.95" y="849.22" width="56.62" height="36.30" fill="#120b21"/>
<rect x="796.57" y="849.22" width="56.62" height="36.30" fill="#140c24"/>
<rect x="853.18" y="849.22" width="56.62" height="36.30" fill="#150c27"/>
<rect x="909.80" y="849.22" width="56.62" height="36.30" fill="#180c2b"/>
<rect x="966.42" y="849.22" width="56.62" height="36.30" fill="#1b0c31"/>
<rect x="1023.04" y="849.22" width="56.62" height="36.30" fill="#1f0b38"/>
<rect x="1079.65" y="849.22" width="56.62" height="36.30" fill="#260a43"/>
<rect x="1136.27" y="849.22" width="56.62" height="36.30" fill="#2f0554"/>
<rect x="1192.89" y="849.22" width="56.62" height="36.30" fill="#3d0066"/>
<rect x="1249.50" y="849.22" width="56.62" height="36.30" fill="#4f0368"/>
</g>
<g font-size="25.6px">
<text x="1314.9" y="187.03" textLength="83.37" lengthAdjust="spacingAndGlyphs">Iceland</text>
<text x="1315.17" y="223.34" textLength="87.65" lengthAdjust="spacingAndGlyphs">Norway</text>
<text x="1315.31" y="259.64" textLength="152.61" lengthAdjust="spacingAndGlyphs">United States</text>
<text x="1315.21" y="295.95" textLength="84.73" lengthAdjust="spacingAndGlyphs">Canada</text>
<text x="1315.2" y="332.25" textLength="150.41" lengthAdjust="spacingAndGlyphs">New Zealand</text>
<text x="1315.22" y="368.55" textLength="189.08" lengthAdjust="spacingAndGlyphs">United Kingdom</text>
<text x="1315.48" y="404.86" textLength="67.73" lengthAdjust="spacingAndGlyphs">Japan</text>
<text x="1315.16" y="441.16" textLength="103.9" lengthAdjust="spacingAndGlyphs">Germany</text>
<text x="1315.02" y="477.47" textLength="59.95" lengthAdjust="spacingAndGlyphs">Israel</text>
<text x="1314.87" y="513.77" textLength="48.1" lengthAdjust="spacingAndGlyphs">Italy</text>
<text x="1315.27" y="550.08" textLength="76.81" lengthAdjust="spacingAndGlyphs">France</text>
<text x="1315.14" y="586.38" textLength="58.12" lengthAdjust="spacingAndGlyphs">Chile</text>
<text x="1315.26" y="622.69" textLength="61.97" lengthAdjust="spacingAndGlyphs">Brazil</text>
<text x="1316.63" y="658.99" textLength="111.65" lengthAdjust="spacingAndGlyphs">Argentina</text>
<text x="1315.14" y="695.3" textLength="82.84" lengthAdjust="spacingAndGlyphs">Mexico</text>
<text x="1315.18" y="731.6" textLength="64.94" lengthAdjust="spacingAndGlyphs">China</text>
<text x="1315.32" y="767.9" textLength="138.44" lengthAdjust="spacingAndGlyphs">South Africa</text>
<text x="1316.64" y="804.21" textLength="78.02" lengthAdjust="spacingAndGlyphs">Algeria</text>
<text x="1314.89" y="840.51" textLength="56.22" lengthAdjust="spacingAndGlyphs">India</text>
<text x="1315.3" y="876.82" textLength="68.89" lengthAdjust="spacingAndGlyphs">Kenya</text>
<text x="186.16" y="29.4" textLength="306.85" lengthAdjust="spacingAndGlyphs">internet users / 100 people</text>
<text x="13.43" y="117.9" textLength="14.44" lengthAdjust="spacingAndGlyphs">0</text>
<text x="165.53" y="117.9" textLength="27.76" lengthAdjust="spacingAndGlyphs">25</text>
<text x="325.47" y="117.9" textLength="28.16" lengthAdjust="spacingAndGlyphs">50</text>
<text x="485.4" y="117.9" textLength="27.8" lengthAdjust="spacingAndGlyphs">75</text>
<text x="638.66" y="117.9" textLength="41.45" lengthAdjust="spacingAndGlyphs">100</text>
<text x="61.28" y="918.0" textLength="54.69" lengthAdjust="spacingAndGlyphs">1995</text>
<text x="343.2" y="918.0" textLength="57.02" lengthAdjust="spacingAndGlyphs">2000</text>
<text x="626.78" y="918.0" textLength="55.71" lengthAdjust="spacingAndGlyphs">2005</text>
<text x="909.82" y="918.0" textLength="56.29" lengthAdjust="spacingAndGlyphs">2010</text>
<text x="1192.73" y="918.0" textLength="55.55" lengthAdjust="spacingAndGlyphs">2015</text>
</g>
</svg></body></html>
